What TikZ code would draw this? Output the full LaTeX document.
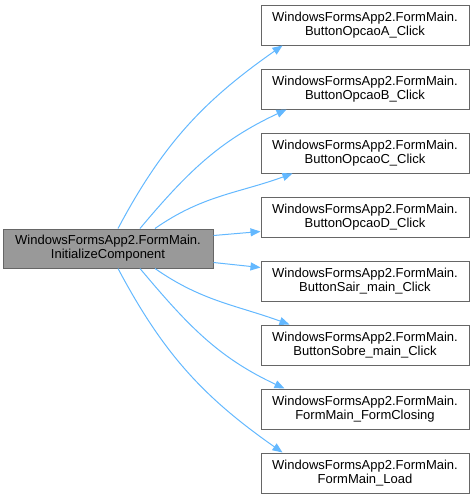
\documentclass[tikz,border=0pt]{standalone}
\usepackage{fontspec}
\setmainfont{Liberation Sans}
\usepackage{xcolor}
\usepackage{tikz}
\usetikzlibrary{arrows.meta}
\definecolor{edgeblue}{HTML}{63B8FF}
\definecolor{boxgrey}{HTML}{666666}
\definecolor{srcfill}{HTML}{999999}
\tikzset{
  fnbox/.style={draw=boxgrey,line width=1pt,fill=white,minimum width=208pt,minimum height=40pt,
    align=center,inner sep=0pt,font=\fontsize{13}{14}\selectfont},
  srcbox/.style={fnbox,fill=srcfill,minimum width=210pt,minimum height=39pt},
  call/.style={draw=edgeblue,line width=1pt,-{Triangle[length=10pt,width=8pt]}}
}
\begin{document}
\begin{tikzpicture}[x=1pt,y=-1pt]
\useasboundingbox (0,0) rectangle (475,499);
\node[srcbox] (src) at (108,248.5) {WindowsFormsApp2.FormMain.\\InitializeComponent};
\node[fnbox] (t1) at (365,25) {WindowsFormsApp2.FormMain.\\ButtonOpcaoA\_Click};
\node[fnbox] (t2) at (365,89) {WindowsFormsApp2.FormMain.\\ButtonOpcaoB\_Click};
\node[fnbox] (t3) at (365,153) {WindowsFormsApp2.FormMain.\\ButtonOpcaoC\_Click};
\node[fnbox] (t4) at (365,217) {WindowsFormsApp2.FormMain.\\ButtonOpcaoD\_Click};
\node[fnbox] (t5) at (365,281) {WindowsFormsApp2.FormMain.\\ButtonSair\_main\_Click};
\node[fnbox] (t6) at (365,345) {WindowsFormsApp2.FormMain.\\ButtonSobre\_main\_Click};
\node[fnbox] (t7) at (365,409) {WindowsFormsApp2.FormMain.\\FormMain\_FormClosing};
\node[fnbox] (t8) at (365,473) {WindowsFormsApp2.FormMain.\\FormMain\_Load};
% calls
\draw[call] ([xshift=10pt]src.north) to[out=62,in=215] ([xshift=22pt]t1.south west);
\draw[call] ([xshift=32pt]src.north) to[out=50,in=205] ([xshift=26pt]t2.south west);
\draw[call] ([xshift=47pt]src.north) to[out=35,in=200] ([xshift=32pt]t3.south west);
\draw[call] ([yshift=-7pt]src.north east) -- ([yshift=6pt]t4.south west);
\draw[call] ([yshift=6pt]src.south east) -- ([yshift=-7pt]t5.north west);
\draw[call] ([xshift=47pt]src.south) to[out=-35,in=160] ([xshift=29pt]t6.north west);
\draw[call] ([xshift=32pt]src.south) to[out=-50,in=155] ([xshift=24pt]t7.north west);
\draw[call] ([xshift=10pt]src.south) to[out=-62,in=145] ([xshift=22pt]t8.north west);
\end{tikzpicture}
\end{document}
